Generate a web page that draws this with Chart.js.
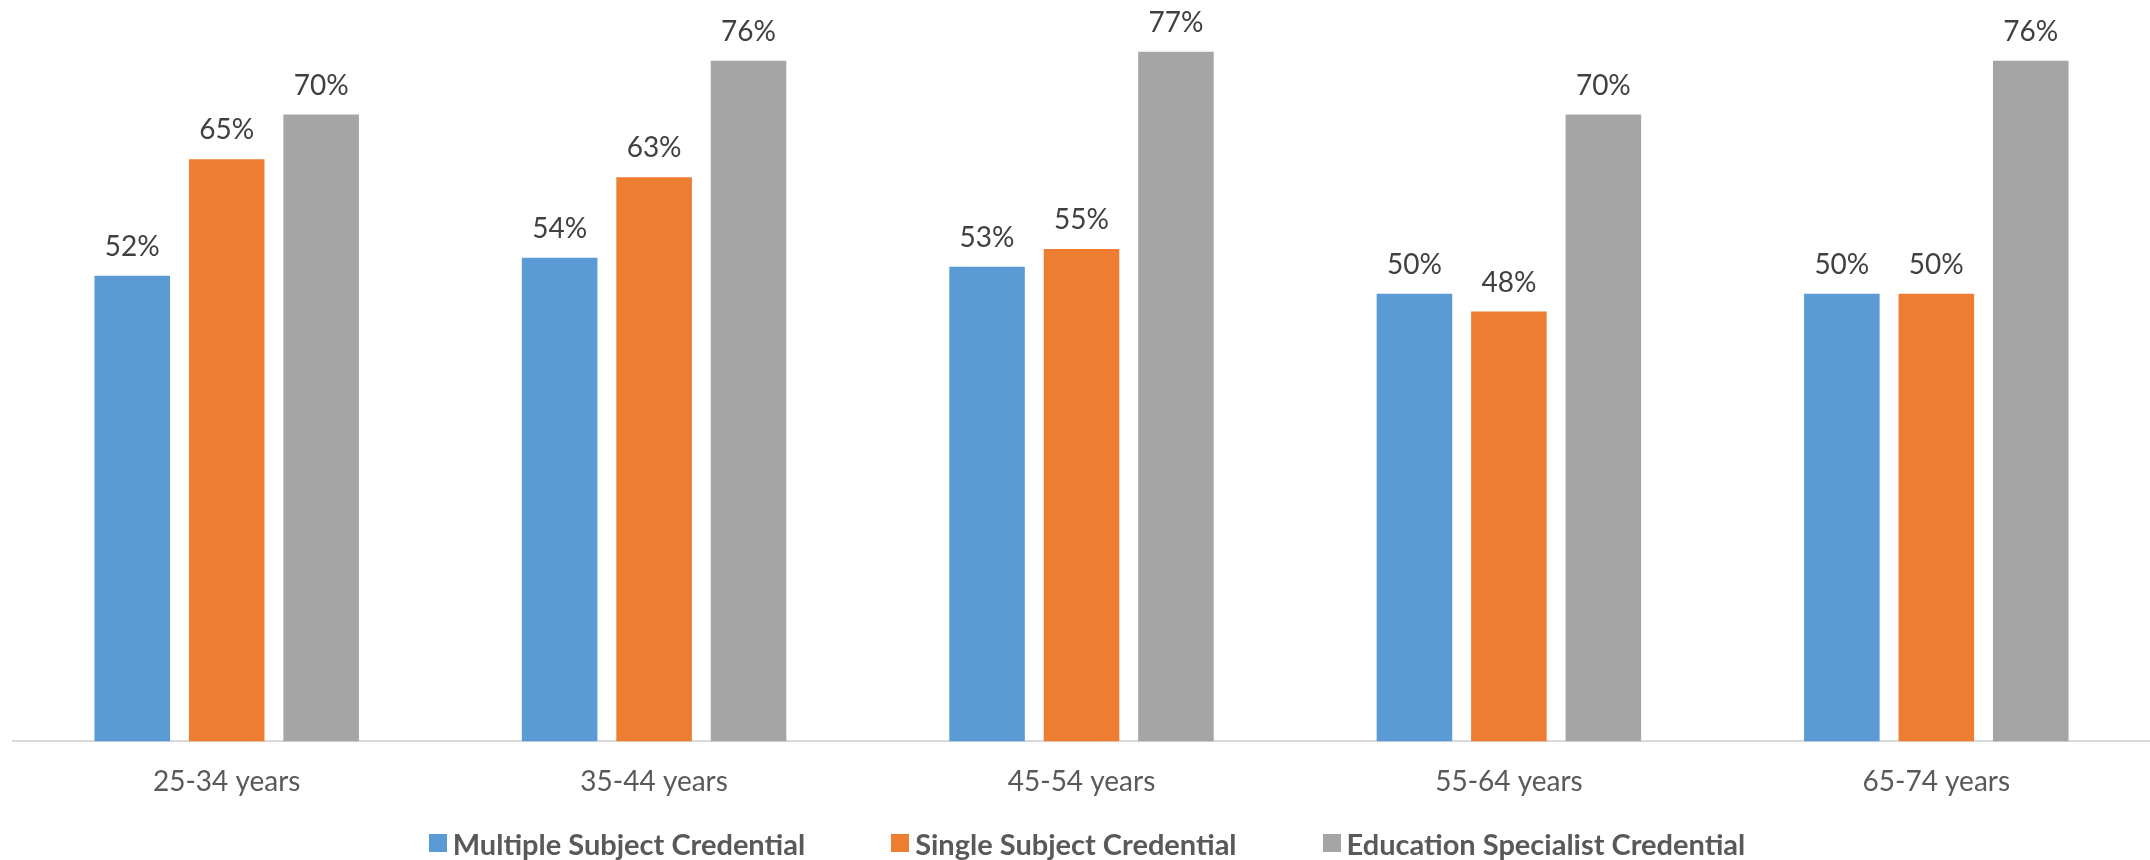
<!DOCTYPE html>
<html>
<head>
<meta charset="utf-8">
<script src="https://cdn.jsdelivr.net/npm/chart.js@4/dist/chart.umd.min.js"></script>
<style>
  html, body { margin: 0; padding: 0; background: #fff; }
  #wrap { position: relative; width: 2150px; height: 860px; }
  #legend {
    position: absolute; left: 0; top: 824px; width: 2150px; height: 38px;
    display: flex; justify-content: center; align-items: center;
    padding-left: 24px; box-sizing: border-box;
    font-family: Lato, sans-serif; font-weight: bold; font-size: 29px; color: #595959;
  }
  .item { display: flex; align-items: center; margin: 0 43px; white-space: nowrap; }
  .swatch { width: 18px; height: 18px; margin-right: 6px; }
</style>
</head>
<body>
<div id="wrap">
  <canvas id="credChart" width="2150" height="860"></canvas>
  <div id="legend"></div>
</div>
<script>
const ageGroups = ['25-34 years', '35-44 years', '45-54 years', '55-64 years', '65-74 years'];
const multipleSubject = [52, 54, 53, 50, 50];
const singleSubject = [65, 63, 55, 48, 50];
const educationSpecialist = [70, 76, 77, 70, 76];
const seriesNames = ['Multiple Subject Credential', 'Single Subject Credential', 'Education Specialist Credential'];
const seriesColors = ['#5B9BD5', '#ED7D31', '#A5A5A5'];

// etiquetas de valor encima de cada barra
const valueLabels = {
    id: 'valueLabels',
    afterDatasetsDraw(chart) {
        const ctx = chart.ctx;
        ctx.save();
        ctx.font = '28px Lato';
        ctx.fillStyle = '#404040';
        ctx.textAlign = 'center';
        ctx.textBaseline = 'alphabetic';
        chart.data.datasets.forEach((ds, i) => {
            chart.getDatasetMeta(i).data.forEach((bar, j) => {
                ctx.fillText(ds.data[j] + '%', bar.x, bar.y - 20);
            });
        });
        ctx.restore();
    }
};

const ctx = document.getElementById('credChart').getContext('2d');
const chart = new Chart(ctx, {
    type: 'bar',
    data: {
        labels: ageGroups,
        datasets: [
            { label: seriesNames[0], data: multipleSubject, backgroundColor: seriesColors[0] },
            { label: seriesNames[1], data: singleSubject, backgroundColor: seriesColors[1] },
            { label: seriesNames[2], data: educationSpecialist, backgroundColor: seriesColors[2] }
        ]
    },
    options: {
        responsive: false,
        animation: false,
        devicePixelRatio: 1,
        categoryPercentage: 0.663,
        barPercentage: 0.8,
        layout: { padding: { left: 13, right: 0, top: 25, bottom: 37 } },
        plugins: {
            legend: { display: false },
            tooltip: { enabled: false }
        },
        scales: {
            x: {
                grid: { display: false, drawTicks: false },
                border: { display: true, color: '#D9D9D9', width: 2 },
                ticks: {
                    color: '#595959',
                    padding: 24,
                    font: { family: 'Lato', size: 28 }
                }
            },
            y: {
                display: false,
                min: 0,
                max: 80
            }
        }
    },
    plugins: [valueLabels]
});

// leyenda en HTML, con los mismos colores que las series
const legendEl = document.getElementById('legend');
chart.data.datasets.forEach(ds => {
    const item = document.createElement('div');
    item.className = 'item';
    const sw = document.createElement('span');
    sw.className = 'swatch';
    sw.style.background = ds.backgroundColor;
    const txt = document.createElement('span');
    txt.textContent = ds.label;
    item.appendChild(sw);
    item.appendChild(txt);
    legendEl.appendChild(item);
});
</script>
</body>
</html>
